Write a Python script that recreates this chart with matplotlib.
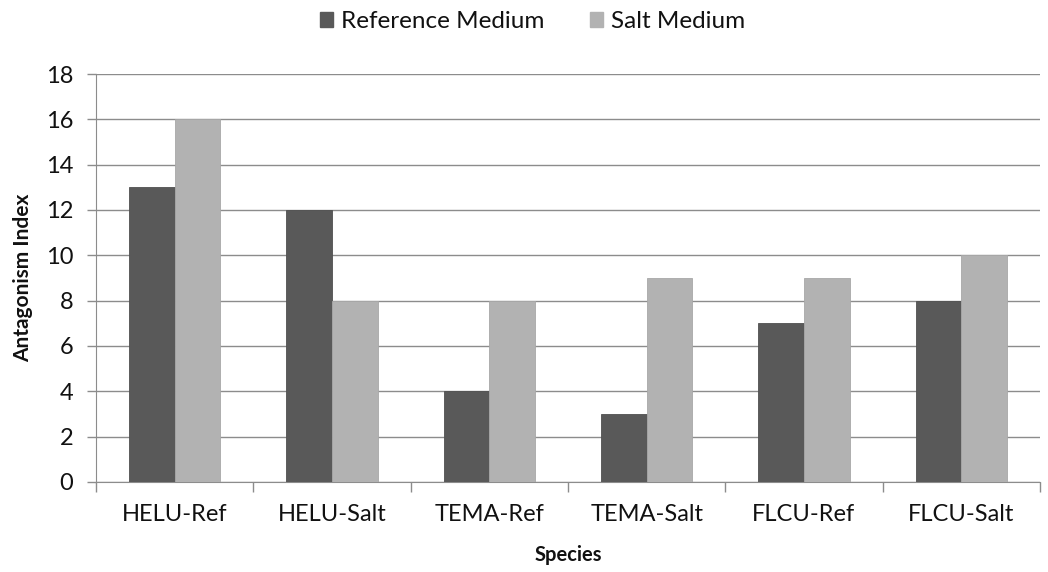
import matplotlib
matplotlib.use("Agg")
import matplotlib.pyplot as plt
import numpy as np
from matplotlib.patches import Patch

categories = ["HELU-Ref", "HELU-Salt", "TEMA-Ref", "TEMA-Salt", "FLCU-Ref", "FLCU-Salt"]
reference_medium = [13, 12, 4, 3, 7, 8]
salt_medium = [16, 8, 8, 9, 9, 10]
yticks = [0, 2, 4, 6, 8, 10, 12, 14, 16, 18]

dark = "#595959"
light = "#b2b2b2"
grid_col = "#8c8c8c"

plt.rcParams['font.family'] = ['Lato', 'DejaVu Sans']

fig = plt.figure(figsize=(10.48, 5.72), dpi=100)
ax = fig.add_axes([96 / 1048, 90 / 572, 944 / 1048, 408 / 572])

x = np.arange(len(categories))
w = 0.29
ax.bar(x - w / 2, reference_medium, w, color=dark, edgecolor="#505050", linewidth=0.6, zorder=3)
ax.bar(x + w / 2, salt_medium, w, color=light, edgecolor="#a8a8a8", linewidth=0.6, zorder=3)

ax.set_xlim(-0.5, len(categories) - 0.5)
ax.set_ylim(0, 18)
ax.set_yticks(yticks)
ax.set_yticklabels([str(v) for v in yticks], fontsize=17, color="#111111")
ax.yaxis.grid(True, color=grid_col, linewidth=1.0, zorder=0)
ax.set_axisbelow(True)

ax.set_xticks(x)
ax.set_xticklabels(categories, fontsize=17, color="#111111")
ax.tick_params(axis='x', length=0, pad=16)
ax.set_xticks(np.arange(-0.5, len(categories)), minor=True)
ax.tick_params(axis='x', which='minor', length=7.5, color=grid_col, width=1.0)
ax.tick_params(axis='y', length=6.5, color=grid_col, width=1.0, pad=10)

for side in ("top", "right"):
    ax.spines[side].set_visible(False)
ax.spines["left"].set_color(grid_col)
ax.spines["bottom"].set_color(grid_col)

ax.set_ylabel("Antagonism Index", fontsize=15, fontweight="bold", labelpad=9, color="#111111")
ax.set_xlabel("Species", fontsize=14.5, fontweight="bold", labelpad=14, color="#111111")

handles = [Patch(facecolor=dark, edgecolor=dark), Patch(facecolor=light, edgecolor=light)]
fig.legend(handles, ["Reference Medium", "Salt Medium"], loc="center", bbox_to_anchor=(0.508, 0.962),
           ncol=2, frameon=False, fontsize=17.5, handlelength=0.55, handleheight=0.55,
           handletextpad=0.3, columnspacing=1.9, labelcolor="#111111")

fig.savefig("out.png", dpi=100)
